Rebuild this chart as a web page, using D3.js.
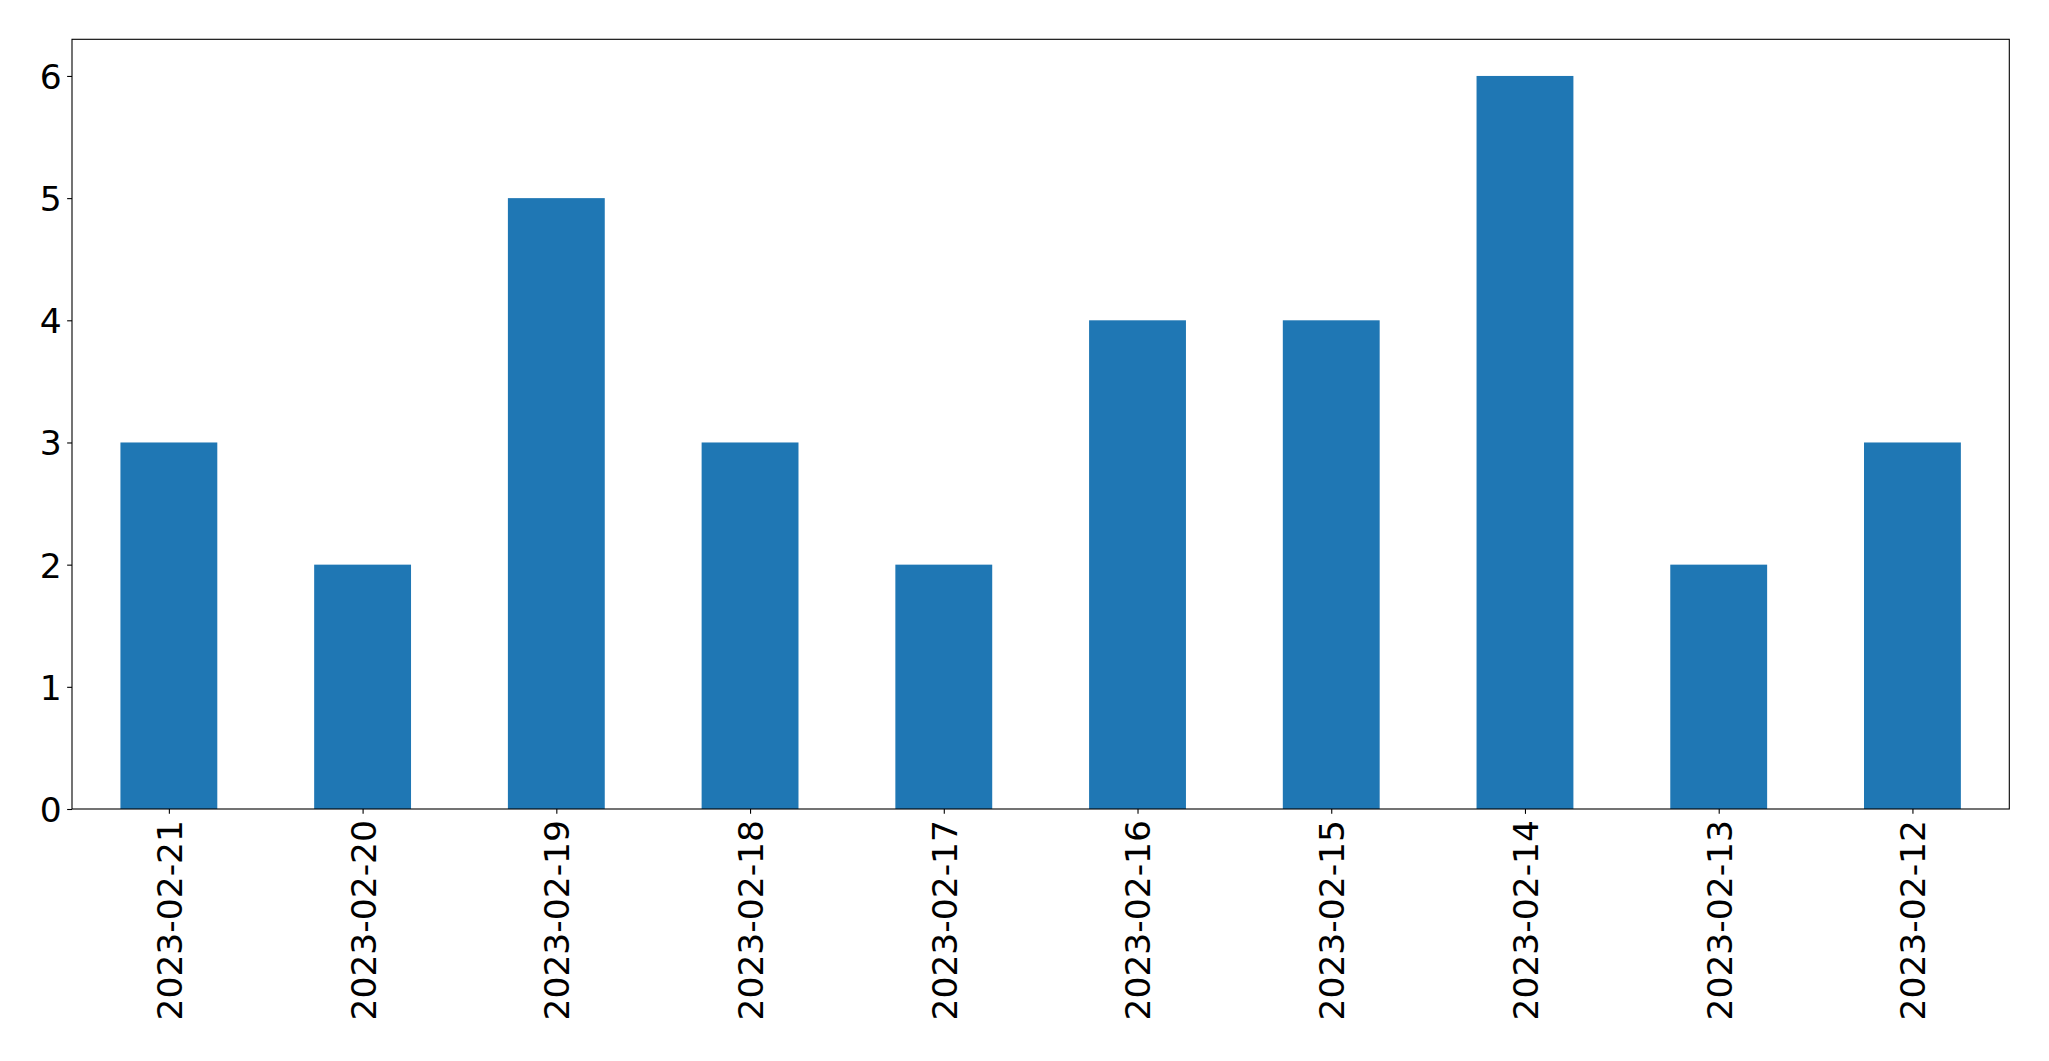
<!DOCTYPE html>
<html><head><meta charset="utf-8">
<script src="https://cdn.jsdelivr.net/npm/d3@7"></script>
<style>html,body{margin:0;padding:0;background:#fff;}svg{display:block;}</style>
</head><body>
<script>
const categories = ["2023-02-21","2023-02-20","2023-02-19","2023-02-18","2023-02-17","2023-02-16","2023-02-15","2023-02-14","2023-02-13","2023-02-12"];
const values = [3,2,5,3,2,4,4,6,2,3];
const yTicks = [0,1,2,3,4,5,6];

const W = 2049, H = 1061;
const m = {left:72, top:39.3, right:2009.3, bottom:809};
const svg = d3.select("body").append("svg").attr("width",W).attr("height",H);

const x = d3.scaleLinear().domain([-0.5, categories.length-0.5]).range([m.left, m.right]);
const y = d3.scaleLinear().domain([0, 6.3]).range([m.bottom, m.top]);
const font = "DejaVu Sans";
const fs = 34.5;

svg.append("g").selectAll("rect").data(values).join("rect")
  .attr("x",(d,i)=>x(i-0.25)).attr("width",(d,i)=>x(i+0.25)-x(i-0.25))
  .attr("y",d=>y(d)).attr("height",d=>y(0)-y(d)).attr("fill","#1f77b4");

// y axis
const ya = svg.append("g").attr("transform",`translate(${m.left},0)`)
  .call(d3.axisLeft(y).tickValues(yTicks).tickFormat(d3.format("d")).tickSize(4.86).tickPadding(5.5));
ya.select(".domain").remove();
ya.selectAll("line").attr("stroke","#000").attr("stroke-width",1.1);
ya.selectAll("text").attr("font-family",font).attr("font-size",fs).attr("fill","#000").attr("dy","0.36em");

// x axis
const xa = svg.append("g").attr("transform",`translate(0,${m.bottom})`)
  .call(d3.axisBottom(x).tickValues(d3.range(categories.length)).tickFormat(i=>categories[i]).tickSize(4.86).tickPadding(0));
xa.select(".domain").remove();
xa.selectAll("line").attr("stroke","#000").attr("stroke-width",1.1);
xa.selectAll("text").attr("font-family",font).attr("font-size",fs).attr("fill","#000")
  .attr("transform","rotate(-90)").attr("text-anchor","end").attr("x",-11).attr("y",0).attr("dy","0.36em");

// frame
svg.append("rect").attr("x",m.left).attr("y",m.top).attr("width",m.right-m.left).attr("height",m.bottom-m.top)
  .attr("fill","none").attr("stroke","#000").attr("stroke-width",1.1);
</script>
</body></html>
